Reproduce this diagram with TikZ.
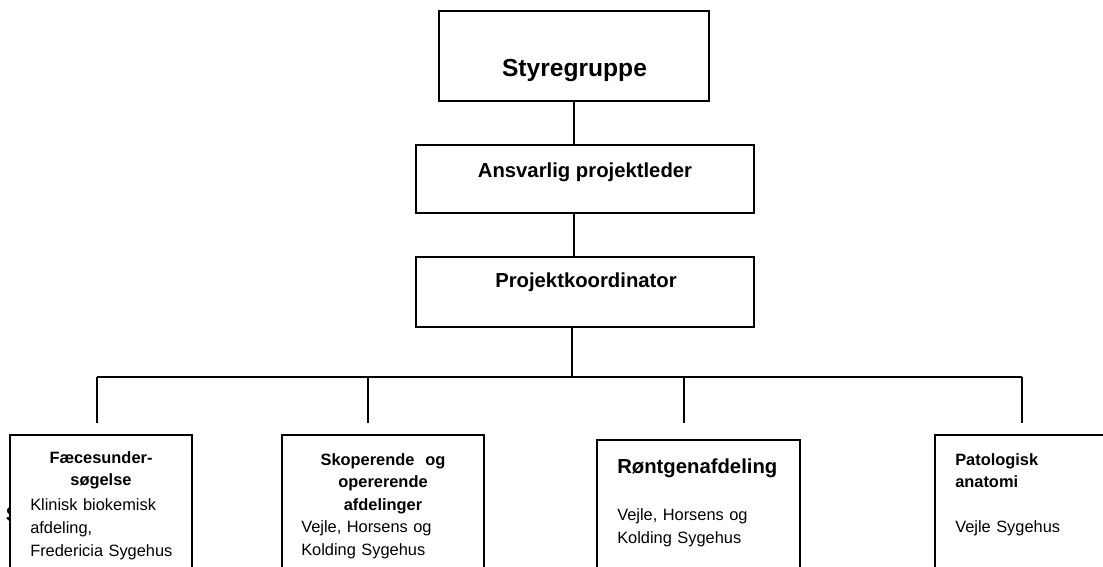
\documentclass[tikz,border=0pt]{standalone}
\usepackage{fontspec}
\setmainfont{Liberation Sans}
\usetikzlibrary{positioning,fit}

\begin{document}
\begin{tikzpicture}[x=0.02572cm, y=-0.02572cm,
  box/.style={draw, line width=1.3pt, fill=white, inner sep=0pt},
  link/.style={line width=1.1pt},
  bigtxt/.style={font=\fontsize{18}{21}\selectfont\bfseries, anchor=base, inner sep=0pt},
  midtxt/.style={font=\fontsize{14.85}{18}\selectfont\bfseries, anchor=base, inner sep=0pt},
  head/.style={font=\fontsize{12}{16.5}\selectfont\bfseries, align=center, text width=4cm, anchor=base, inner sep=0pt},
  lefthead/.style={font=\fontsize{12}{16.5}\selectfont\bfseries, align=left, text width=4cm, anchor=base west, inner sep=0pt},
  body/.style={font=\fontsize{12}{17}\selectfont, align=left, text width=4.5cm, anchor=base west, inner sep=0pt}
]
  \useasboundingbox (0,0) rectangle (1103,567);
  \clip (0,0) rectangle (1103,567);

  % top of the chart
  \node[box, fit={(439,11) (709,101)}] (styre) {};
  \node[box, fit={(416,145) (754,213)}] (ansv) {};
  \node[box, fit={(416,257) (754,327)}] (koord) {};
  \node[bigtxt] (styretxt) at (574.5,77) {Styregruppe};
  \node[midtxt] (ansvtxt) at (585,178) {Ansvarlig projektleder};
  \node[midtxt] (koordtxt) at (586,288) {Projektkoordinator};

  \draw[link] (styre.south) -- (styre.south |- ansv.north);
  \draw[link] (styre.south |- ansv.south) -- (styre.south |- koord.north);

  % branches
  \coordinate (bus) at (572,377);
  \coordinate (d1) at (97,423);
  \coordinate (d2) at (368,423);
  \coordinate (d3) at (684,423);
  \coordinate (d4) at (1022,423);
  \draw[link] (koord.south -| bus) -- (bus);
  \draw[link] (d1 |- bus) -- (d4 |- bus);
  \foreach \i in {1,...,4}
    \draw[link] (d\i |- bus) -- (d\i);

  % stray letter behind the first box
  \node[font=\fontsize{15}{18}\selectfont\bfseries, anchor=base west, inner sep=0pt] (stray) at (5.5,521) {S};

  % departments
  \node[box, fit={(10,435) (192,620)}] (faeces) {};
  \node[box, fit={(282,435) (484,620)}] (skop) {};
  \node[box, fit={(597,440) (800,620)}] (roent) {};
  \node[box, fit={(935,435) (1130,620)}] (pato) {};

  \node[head] (faeceshead) at (101,463) {Fæcesunder-\\søgelse};
  \node[body] (faecesbody) at (30,510) {Klinisk biokemisk\\afdeling,\\Fredericia Sygehus};

  \node[head] (skophead) at (383,465) {Skoperende\ \ og\\opererende\\afdelinger};
  \node[body] (skopbody) at (301,532) {Vejle, Horsens og\\Kolding Sygehus};

  \node[midtxt, anchor=base west] (roenthead) at (617,473) {Røntgenafdeling};
  \node[body] (roentbody) at (617,520) {Vejle, Horsens og\\Kolding Sygehus};

  \node[lefthead] (patohead) at (955,465) {Patologisk\\anatomi};
  \node[body] (patobody) at (955,532) {Vejle Sygehus};
\end{tikzpicture}
\end{document}
